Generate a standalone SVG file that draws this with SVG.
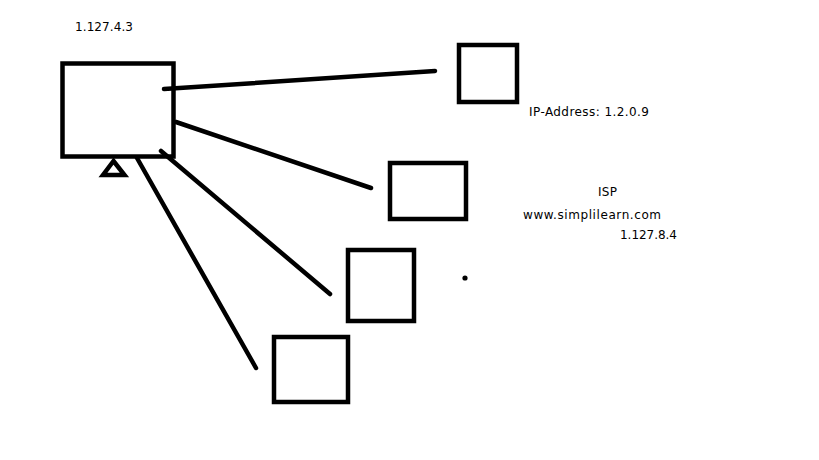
<svg xmlns="http://www.w3.org/2000/svg" width="819" height="460" viewBox="0 0 819 460">
<style>
.box{fill:#fff;stroke:#000;stroke-width:4.5}
.ln{stroke:#000;stroke-width:4.5;stroke-linecap:round;fill:none}
.t{font-family:"DejaVu Sans",Verdana,sans-serif;font-size:12px;fill:#000}
</style>
<rect width="819" height="460" fill="#fff"/>
<g id="connectors">
<line class="ln" x1="164" y1="89" x2="435" y2="71"/>
<line class="ln" x1="176" y1="122" x2="371" y2="188"/>
<line class="ln" x1="161" y1="151" x2="330" y2="294"/>
<line class="ln" x1="137" y1="158" x2="256" y2="368"/>
</g>
<g id="host">
<rect class="box" x="62.5" y="63.5" width="111" height="93" style="fill:none"/>
<polygon class="box" points="113.5,161 103,175 124.5,175"/>
<text class="t" x="75" y="31" textLength="58">1.127.4.3</text>
</g>
<g id="node1">
<rect class="box" x="459" y="45" width="58" height="57"/>
</g>
<g id="node2">
<rect class="box" x="390" y="163" width="76" height="56"/>
</g>
<g id="node3">
<rect class="box" x="348" y="250" width="66" height="71"/>
</g>
<g id="node4">
<rect class="box" x="274" y="337" width="74" height="65"/>
</g>
<g id="dot"><circle cx="465" cy="278" r="2.6" fill="#000"/></g>
<g id="labels">
<text class="t" x="529" y="116" textLength="120">IP-Address: 1.2.0.9</text>
<text class="t" x="598" y="196" textLength="19">ISP</text>
<text class="t" x="523" y="219" textLength="138">www.simplilearn.com</text>
<text class="t" x="620" y="239" textLength="57">1.127.8.4</text>
</g>
</svg>
